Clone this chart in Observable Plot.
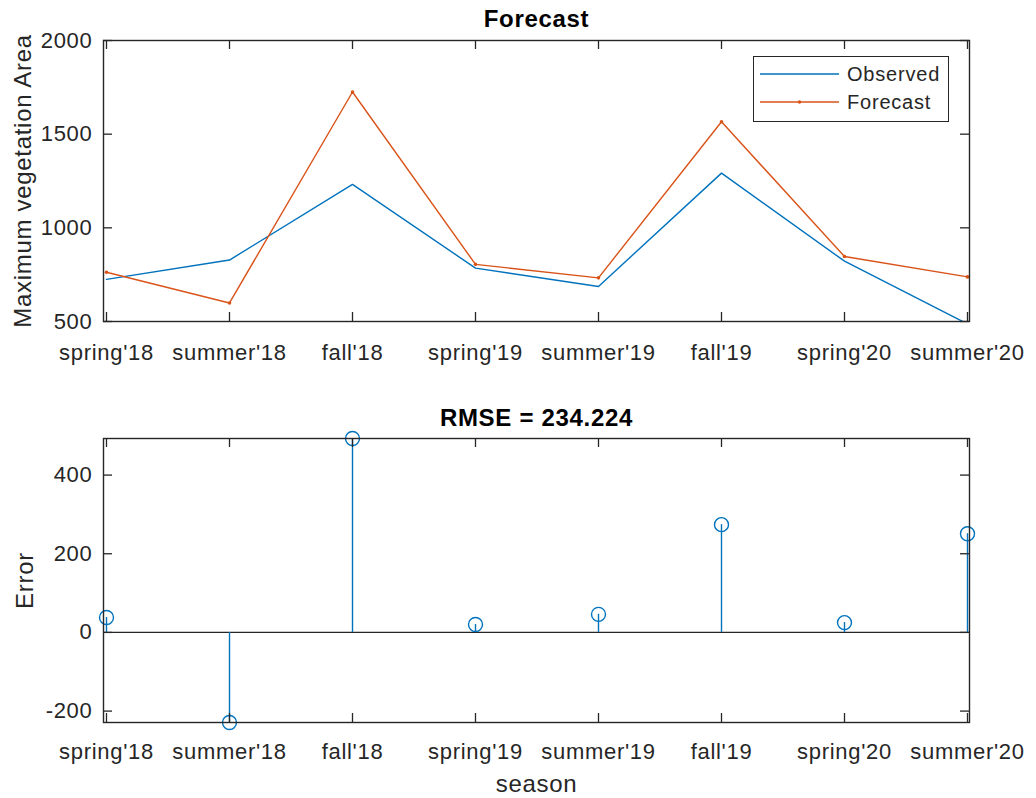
<!DOCTYPE html>
<html>
<head>
<meta charset="utf-8">
<script src="https://cdn.jsdelivr.net/npm/d3@7"></script>
<script src="https://cdn.jsdelivr.net/npm/@observablehq/plot@0.6"></script>
<style>
  body { margin: 0; background: #fff; }
  #fig { position: relative; width: 1036px; height: 798px; background: #fff;
         font-family: "Liberation Sans", Arial, sans-serif; }
  #fig > svg { position: absolute; left: 0; overflow: visible; }
  .legend { position: absolute; background: #fff; border: 1.3px solid #262626; box-sizing: border-box; }
  .legend svg { display: block; overflow: visible; }
</style>
</head>
<body>
<div id="fig"></div>
<script>
// Seasons on the shared x axis
const seasons = ["spring'18", "summer'18", "fall'18", "spring'19", "summer'19", "fall'19", "spring'20", "summer'20"];
// Maximum vegetation area, observed vs. forecast
const observed = [725, 828, 1232, 785, 687, 1292, 822, 487];
const forecast = [763, 599, 1725, 805, 733, 1566, 847, 738];
// Forecast error per season
const errors = [38, -229, 493, 20, 46, 274, 25, 251];
// Axis ticks and texts
const areaTicks = [500, 1000, 1500, 2000];
const errorTicks = [-200, 0, 200, 400];
const topTitle = "Forecast";
const bottomTitle = "RMSE = 234.224";
const areaLabel = "Maximum vegetation Area";
const errorLabel = "Error";
const seasonLabel = "season";
const seriesNames = ["Observed", "Forecast"];

const blue = "#0072BD", orange = "#D95319", ink = "#262626";
const W = 1036, ml = 103, mr = 67;
const innerW = W - ml - mr;
const tickLen = 9;
const font = "Liberation Sans, Arial, sans-serif";
const plain = d => String(d);

const obsRows = seasons.map((s, i) => ({season: s, value: observed[i]}));
const fcRows = seasons.map((s, i) => ({season: s, value: forecast[i]}));
const errRows = seasons.map((s, i) => ({season: s, value: errors[i]}));

// Inward ticks on all four sides of a boxed axes
function boxTicks(yTicks, innerH) {
  const o = {stroke: ink, strokeWidth: 1.3};
  return [
    Plot.tickX(seasons, {x: d => d, insetBottom: innerH - tickLen, ...o}),
    Plot.tickX(seasons, {x: d => d, insetTop: innerH - tickLen, ...o}),
    Plot.tickY(yTicks, {y: d => d, insetRight: innerW - tickLen, ...o}),
    Plot.tickY(yTicks, {y: d => d, insetLeft: innerW - tickLen, ...o})
  ];
}

const baseStyle = {fontFamily: font, fontSize: "22px", color: ink, background: "transparent", letterSpacing: "0.7px"};
const titleOpts = {frameAnchor: "top", lineAnchor: "middle", textAnchor: "middle", fontSize: 24, fontWeight: "bold", fill: "#000", letterSpacing: "1px"};
const ylabelOpts = {frameAnchor: "left", lineAnchor: "middle", textAnchor: "middle", rotate: -90, fontSize: 24, fill: ink, letterSpacing: "1px"};

// Upper axes: observed and forecast lines
const topH = 375, topMt = 40, topMb = topH - 321;
const topPlot = Plot.plot({
  width: W, height: topH,
  marginLeft: ml, marginRight: mr, marginTop: topMt, marginBottom: topMb,
  style: baseStyle,
  x: {type: "point", domain: seasons, padding: 0},
  y: {domain: [500, 2000]},
  marks: [
    Plot.line(obsRows, {x: "season", y: "value", stroke: blue, strokeWidth: 1.4, clip: true}),
    Plot.line(fcRows, {x: "season", y: "value", stroke: orange, strokeWidth: 1.4, clip: true}),
    Plot.dot(fcRows, {x: "season", y: "value", r: 1.8, fill: orange, clip: true}),
    ...boxTicks(areaTicks, 321 - topMt),
    Plot.frame({stroke: ink, strokeWidth: 1.4}),
    Plot.axisX({tickSize: 0, tickPadding: 23, fill: ink, label: null}),
    Plot.axisY({ticks: areaTicks, tickFormat: plain, tickSize: 0, tickPadding: 11, fill: ink, label: null}),
    Plot.text([topTitle], {...titleOpts, dy: -21}),
    Plot.text([areaLabel], {...ylabelOpts, dx: -80})
  ]
});
topPlot.style.top = "0px";

// Lower axes: stem plot of the errors
const botTop = 375, botH = 798 - botTop;
const botMt = 438 - botTop, botMb = 798 - 722;
const botPlot = Plot.plot({
  width: W, height: botH,
  marginLeft: ml, marginRight: mr, marginTop: botMt, marginBottom: botMb,
  style: baseStyle,
  x: {type: "point", domain: seasons, padding: 0},
  y: {domain: [d3.min(errors), d3.max(errors)]},
  marks: [
    Plot.ruleY([0], {stroke: ink, strokeWidth: 1.4}),
    Plot.ruleX(errRows, {x: "season", y1: 0, y2: "value", stroke: blue, strokeWidth: 1.4}),
    Plot.dot(errRows, {x: "season", y: "value", r: 7, stroke: blue, strokeWidth: 1.4, fill: "none"}),
    ...boxTicks(errorTicks, 722 - 438),
    Plot.frame({stroke: ink, strokeWidth: 1.4}),
    Plot.axisX({tickSize: 0, tickPadding: 21, fill: ink, label: null}),
    Plot.axisY({ticks: errorTicks, tickFormat: plain, tickSize: 0, tickPadding: 11, fill: ink, label: null}),
    Plot.text([bottomTitle], {...titleOpts, dy: -20}),
    Plot.text([errorLabel], {...ylabelOpts, dx: -78}),
    Plot.text([seasonLabel], {frameAnchor: "bottom", lineAnchor: "middle", textAnchor: "middle", dy: 62, fontSize: 24, fill: ink, letterSpacing: "1px"})
  ]
});
botPlot.style.top = botTop + "px";

const fig = document.getElementById("fig");
fig.append(topPlot, botPlot);

// Legend box in the upper axes
const legend = document.createElement("div");
legend.className = "legend";
Object.assign(legend.style, {left: "753px", top: "56px", width: "196px", height: "66px"});
const ls = d3.create("svg").attr("width", 194).attr("height", 64);
const rows = [{name: seriesNames[0], color: blue, dot: false}, {name: seriesNames[1], color: orange, dot: true}];
rows.forEach((r, i) => {
  const y = 17 + i * 28;
  ls.append("line").attr("x1", 6).attr("x2", 85).attr("y1", y).attr("y2", y)
    .attr("stroke", r.color).attr("stroke-width", 1.4);
  if (r.dot) ls.append("circle").attr("cx", 45.5).attr("cy", y).attr("r", 1.8).attr("fill", r.color);
  ls.append("text").attr("x", 93).attr("y", y).attr("dy", "0.35em")
    .attr("font-family", font).attr("font-size", 20).attr("letter-spacing", "0.8px")
    .attr("fill", ink).text(r.name);
});
legend.append(ls.node());
fig.append(legend);
</script>
</body>
</html>
